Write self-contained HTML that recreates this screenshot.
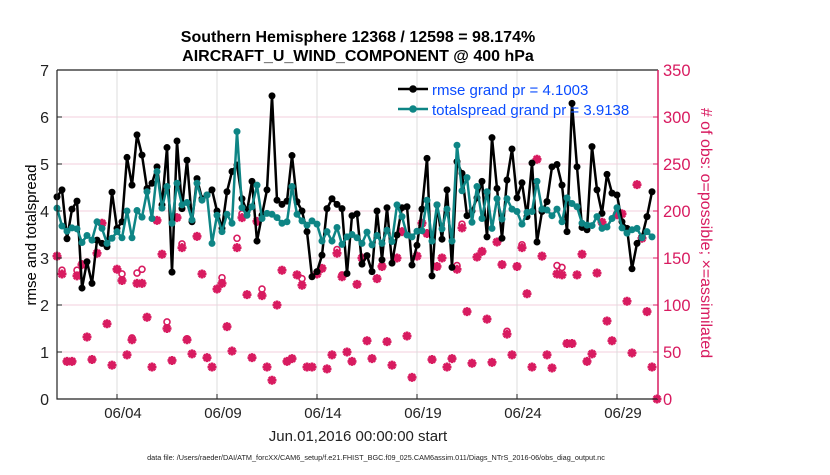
<!DOCTYPE html>
<html><head><meta charset="utf-8">
<style>
body{margin:0;background:#fff;}
svg text{font-family:"Liberation Sans",Arial,sans-serif;}
</style></head>
<body>
<svg id="chart" width="830" height="470" viewBox="0 0 830 470" xmlns="http://www.w3.org/2000/svg">
<rect x="0" y="0" width="830" height="470" fill="#fff"/>
<g id="grid"></g>
<g id="obs"></g>
<g id="lines"></g>
<g id="axes"></g>
<text x="358" y="42" text-anchor="middle" font-size="16" font-weight="bold">Southern Hemisphere 12368 / 12598 = 98.174%</text>
<text x="358" y="61" text-anchor="middle" font-size="16" font-weight="bold">AIRCRAFT_U_WIND_COMPONENT @ 400 hPa</text>
<text transform="translate(36,235) rotate(-90)" text-anchor="middle" font-size="15">rmse and totalspread</text>
<text transform="translate(701,233) rotate(90)" text-anchor="middle" font-size="16" fill="#d81b60"># of obs: o=possible; ×=assimilated</text>
<text x="358" y="441" text-anchor="middle" font-size="15" fill="#222">Jun.01,2016 00:00:00 start</text>
<text x="376" y="460" text-anchor="middle" font-size="7.3" fill="#222">data file: /Users/raeder/DAI/ATM_forcXX/CAM6_setup/f.e21.FHIST_BGC.f09_025.CAM6assim.011/Diags_NTrS_2016-06/obs_diag_output.nc</text>
<g>
<line x1="398" y1="89" x2="428" y2="89" stroke="#000" stroke-width="2.5"/>
<circle cx="413" cy="89" r="3.8" fill="#000"/>
<text x="432" y="95" font-size="15" fill="#0a4cff">rmse grand pr = 4.1003</text>
<line x1="398" y1="109" x2="428" y2="109" stroke="#0e8585" stroke-width="2.5"/>
<circle cx="413" cy="109" r="3.8" fill="#0e8585"/>
<text x="432" y="115" font-size="15" fill="#0a4cff">totalspread grand pr = 3.9138</text>
</g>
</svg>
<script>
const rmse=[4.30,4.45,3.41,4.04,4.21,2.36,2.92,2.46,3.38,3.31,3.24,4.40,3.63,3.77,5.14,4.55,5.62,5.19,4.48,4.59,4.94,4.13,5.35,2.70,5.49,4.05,5.08,3.77,4.69,4.26,4.34,4.45,
4.00,3.63,4.41,4.84,4.98,4.26,3.99,4.63,3.36,3.91,4.45,6.45,4.23,4.14,4.21,5.18,4.20,4.00,3.56,2.60,2.71,3.06,4.05,4.26,4.14,4.05,2.67,3.90,3.94,2.87,
3.05,2.71,4.00,2.96,4.07,2.89,3.49,4.07,4.09,2.85,3.27,4.04,5.12,2.62,4.13,3.40,4.45,2.80,5.05,4.80,3.90,4.00,4.28,4.63,3.45,5.56,4.48,3.42,4.66,5.32,
4.28,4.60,3.88,5.02,3.34,3.99,4.20,4.94,4.99,4.55,3.56,6.29,4.94,3.65,3.60,5.37,4.45,3.95,4.78,4.38,4.34,3.77,3.63,2.77,3.31,3.45,3.88,4.41];
const spread=[4.06,3.68,3.57,3.64,3.62,3.33,3.48,3.38,3.77,3.63,3.31,3.42,3.56,3.43,4.00,3.43,4.01,3.87,4.41,3.84,4.84,4.06,4.52,3.74,4.59,4.13,4.18,3.81,4.59,4.23,4.34,3.31,
3.91,3.56,3.93,3.74,5.69,4.07,3.91,4.09,4.55,3.84,3.95,3.93,3.86,3.74,3.77,4.52,3.93,3.79,3.70,3.79,3.72,3.36,3.56,3.36,3.65,3.29,3.45,3.50,3.43,3.31,
3.55,3.28,3.48,3.31,3.59,3.35,4.13,3.88,3.49,3.45,3.57,3.58,4.23,3.36,4.13,3.62,4.04,3.36,5.40,4.43,4.71,3.76,4.52,3.84,4.41,3.63,4.26,3.83,4.26,4.04,
3.99,3.72,3.97,3.99,4.63,4.04,4.02,3.90,4.04,3.77,4.28,4.16,4.09,3.74,3.70,3.69,3.88,3.63,3.66,3.84,4.07,3.64,3.53,3.60,3.63,3.43,3.56,3.45];
const assimilated=[152,133,40,40,131,143,66,42,155,187,80,36,138,126,47,63,123,123,87,34,190,154,75,41,193,161,63,48,173,133,44,34,
117,123,77,51,161,193,111,44,189,110,34,20,100,137,40,43,132,121,34,34,133,139,32,47,155,130,50,40,122,150,
62,43,128,141,61,36,150,178,67,23,152,187,176,42,141,150,34,43,138,182,93,38,151,157,85,39,167,143,69,47,
141,161,112,34,255,152,47,33,133,132,59,59,132,154,40,48,134,188,83,62,196,197,104,49,228,171,93,34,0];
const possible=[152,137,40,40,137,143,66,42,155,187,80,36,138,133,47,65,134,138,87,34,190,154,82,41,193,165,64,48,173,133,44,34,
117,129,77,51,171,197,111,44,189,117,34,20,100,137,40,43,132,128,34,34,133,139,32,47,159,132,50,40,122,150,
62,43,128,141,61,36,150,178,67,23,152,187,176,42,141,150,34,43,142,186,93,38,151,157,85,39,167,143,72,47,
141,164,112,34,255,152,47,33,142,140,59,59,132,154,40,48,134,188,83,62,196,197,104,49,228,172,93,34,0];
const leftTicks=[0,1,2,3,4,5,6,7];
const rightTicks=[0,50,100,150,200,250,300,350];
const dateTicks=[4,9,14,19,24,29];
const dateLabels=["06/04","06/09","06/14","06/19","06/24","06/29"];
const startDay=1, stepDay=0.25;

const NS="http://www.w3.org/2000/svg";
const L=57,R=658,T=70,B=399;
const dayMin=1,dayMax=31.05;
const xs=d=>L+(d-dayMin)/(dayMax-dayMin)*(R-L);
const yl=v=>B-v/7*(B-T);
const yr=v=>B-v/350*(B-T);
function mk(tag,attrs,parent){const e=document.createElementNS(NS,tag);for(const k in attrs)e.setAttribute(k,attrs[k]);parent.appendChild(e);return e;}
const grid=document.getElementById('grid'),axes=document.getElementById('axes'),lines=document.getElementById('lines'),obs=document.getElementById('obs');

leftTicks.forEach(v=>{
  if(v>0&&v<7){const g=mk('line',{x1:L,x2:R,y1:yl(v),y2:yl(v),stroke:'#f3cfdc','stroke-width':1},grid);
  
  }
  const t=mk('text',{x:L-8,y:yl(v)+6,'text-anchor':'end','font-size':16,fill:'#222'},axes);t.textContent=v;
  
  
  mk('line',{x1:L,x2:L+5,y1:yl(v),y2:yl(v),stroke:'#222'},axes);
});
rightTicks.forEach(v=>{
  const t=mk('text',{x:R+5,y:yr(v)+6,'text-anchor':'start','font-size':16.5,fill:'#d81b60'},axes);t.textContent=v;
  
  
  mk('line',{x1:R-5,x2:R,y1:yr(v),y2:yr(v),stroke:'#d81b60'},axes);
});
dateTicks.forEach((d,i)=>{
  const g=mk('line',{x1:xs(d),x2:xs(d),y1:T,y2:B,stroke:'#dcdcdc','stroke-width':1},grid);
  
  
  mk('line',{x1:xs(d),x2:xs(d),y1:B,y2:B-5,stroke:'#222'},axes);
  const t=mk('text',{x:xs(d)+6,y:418,'text-anchor':'middle','font-size':15,fill:'#222'},axes);t.textContent=dateLabels[i];
  
  
});
const frame=mk('path',{d:`M${L},${T}H${R}M${L},${T}V${B}H${R}`,stroke:'#222',fill:'none','stroke-width':1.2},axes);


const ra=mk('line',{x1:R,x2:R,y1:T,y2:B,stroke:'#d81b60','stroke-width':1.5},axes);



possible.forEach((v,i)=>{
  const x=xs(startDay+i*stepDay),y=yr(v);
  const c=mk('circle',{cx:x,cy:y,r:3,fill:'none',stroke:'#d81b60','stroke-width':1.6},obs);
  
  
});
assimilated.forEach((v,i)=>{
  const x=xs(startDay+i*stepDay),y=yr(v),s=4.5;
  const p=mk('path',{d:`M${x-s},${y}H${x+s}M${x},${y-s}V${y+s}M${x-3.2},${y-3.2}L${x+3.2},${y+3.2}M${x-3.2},${y+3.2}L${x+3.2},${y-3.2}`,stroke:'#d81b60','stroke-width':2.6,fill:'none'},obs);
  
  
});

function series(arr,color,name){
  const pts=arr.map((v,i)=>`${xs(startDay+i*stepDay).toFixed(1)},${yl(v).toFixed(1)}`).join(' ');
  const pl=mk('polyline',{points:pts,fill:'none',stroke:color,'stroke-width':2.5,'stroke-linejoin':'round'},lines);
  
  
  arr.forEach((v,i)=>{
    const c=mk('circle',{cx:xs(startDay+i*stepDay),cy:yl(v),r:3.5,fill:color},lines);
    
    
  });
}
series(rmse,'#000','rmse');
series(spread,'#0e8585','totalspread');
</script>
</body></html>
